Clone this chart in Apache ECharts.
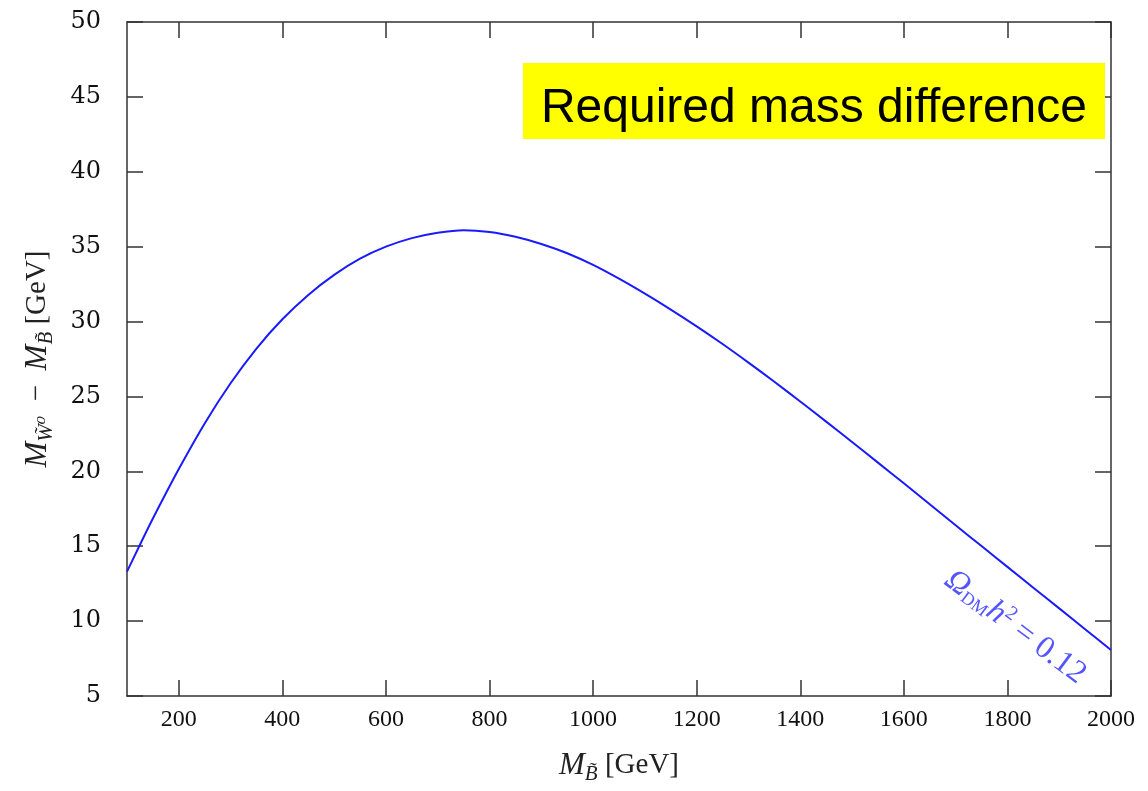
<!DOCTYPE html>
<html>
<head>
<meta charset="utf-8">
<script src="https://cdn.jsdelivr.net/npm/echarts@6/dist/echarts.min.js"></script>
<style>html,body{margin:0;padding:0;background:#fff;}#c{width:1148px;height:791px;}</style>
</head>
<body>
<div id="c"></div>
<script>
// Bino mass [GeV]
const massB = [100,125,150,200,250,300,350,400,450,500,550,600,650,700,750,800,850,900,950,1000,1050,1100,1150,1200,1250,1300,1350,1400,1450,1500,1550,1600,1650,1700,1750,1800,1850,1900,1950,2000];
// Required mass difference M_W0 - M_B [GeV]
const deltaM = [13.3,15.1,16.85,20.15,23.2,25.88,28.2,30.15,31.78,33.12,34.2,35.0,35.57,35.93,36.1,35.98,35.66,35.18,34.56,33.78,32.86,31.86,30.8,29.68,28.5,27.26,25.98,24.66,23.32,21.96,20.58,19.2,17.8,16.4,15.01,13.62,12.23,10.85,9.46,8.07];
const xTicks = [200,400,600,800,1000,1200,1400,1600,1800,2000];
const yTicks = [5,10,15,20,25,30,35,40,45,50];
const curveLabelAt = [1815, 9.6];
const boxTitle = 'Required mass difference';

const serif = "'Liberation Serif', 'DejaVu Serif', serif";
const axisColor = '#333';
const lineStyle = {color: axisColor, width: 1.5};
const nameRich = {
  m: {fontFamily: serif, fontStyle: 'italic', fontSize: 31, color: '#222'},
  s: {fontFamily: serif, fontStyle: 'italic', fontSize: 21, padding: [18, 0, 0, 0], color: '#222'},
  t: {fontFamily: serif, fontSize: 29, color: '#222'}
};

const chart = echarts.init(document.getElementById('c'), null, {renderer: 'canvas'});
const common = {
  type: 'value', min: 100, max: 2000,
  axisLine: {show: true, onZero: false, lineStyle: lineStyle},
  splitLine: {show: false}
};
chart.setOption({
  animation: false,
  backgroundColor: '#fff',
  title: {
    text: boxTitle, right: 43, top: 63,
    backgroundColor: '#ffff00',
    padding: [21, 18, 5, 18],
    textStyle: {fontFamily: "'Liberation Sans', Arial, sans-serif", fontSize: 48, fontWeight: 'normal', color: '#000', lineHeight: 50}
  },
  grid: {left: 127, right: 37, top: 22, bottom: 95},
  xAxis: [
    Object.assign({}, common, {
      position: 'bottom',
      axisTick: {show: true, inside: true, length: 16, customValues: xTicks, lineStyle: lineStyle},
      axisLabel: {show: true, customValues: xTicks, margin: 12, color: '#111', fontFamily: serif, fontSize: 24,
        formatter: v => String(v)},
      name: '{m|M}{s|B̃}{t| [GeV]}',
      nameLocation: 'middle', nameGap: 50,
      nameTextStyle: {rich: nameRich}
    }),
    Object.assign({}, common, {
      position: 'top',
      axisTick: {show: true, inside: true, length: 16, customValues: xTicks, lineStyle: lineStyle},
      axisLabel: {show: false}
    })
  ],
  yAxis: [
    {
      type: 'value', min: 5, max: 50, interval: 5, position: 'left',
      axisLine: {show: true, onZero: false, lineStyle: lineStyle},
      splitLine: {show: false},
      axisTick: {show: true, inside: true, length: 16, customValues: yTicks, lineStyle: lineStyle},
      axisLabel: {show: true, customValues: yTicks, margin: 26, color: '#111', fontFamily: "'DejaVu Serif', serif", fontSize: 24,
        formatter: v => String(v)},
      name: '{m|M}{s|W̃⁰}{t|  −  }{m|M}{s|B̃}{t| [GeV]}',
      nameLocation: 'middle', nameGap: 70, nameRotate: 90,
      nameTextStyle: {rich: nameRich}
    },
    {
      type: 'value', min: 5, max: 50, interval: 5, position: 'right',
      axisLine: {show: true, onZero: false, lineStyle: lineStyle},
      splitLine: {show: false},
      axisTick: {show: true, inside: true, length: 16, customValues: yTicks, lineStyle: lineStyle},
      axisLabel: {show: false}
    }
  ],
  series: [
    {
      type: 'line',
      data: massB.map((x, i) => [x, deltaM[i]]),
      showSymbol: false, smooth: 0.25,
      lineStyle: {color: '#1a1aff', width: 2},
      clip: true, z: 3
    },
    {
      type: 'scatter',
      data: [curveLabelAt],
      symbolSize: 0,
      silent: true,
      label: {
        show: true, position: 'inside', rotate: -37,
        formatter: () => '{o|Ω}{s|DM}{h|h}{p|2}{t| = 0.12}',
        rich: {
          o: {fontFamily: serif, fontStyle: 'italic', fontSize: 32, color: '#2a2aff'},
          s: {fontFamily: serif, fontSize: 18, color: '#2a2aff', padding: [14, 0, 0, 0]},
          h: {fontFamily: serif, fontStyle: 'italic', fontSize: 32, color: '#2a2aff'},
          p: {fontFamily: serif, fontSize: 20, color: '#2a2aff', padding: [0, 0, 16, 0]},
          t: {fontFamily: serif, fontSize: 32, color: '#2a2aff'}
        }
      }
    }
  ]
});
</script>
</body>
</html>
